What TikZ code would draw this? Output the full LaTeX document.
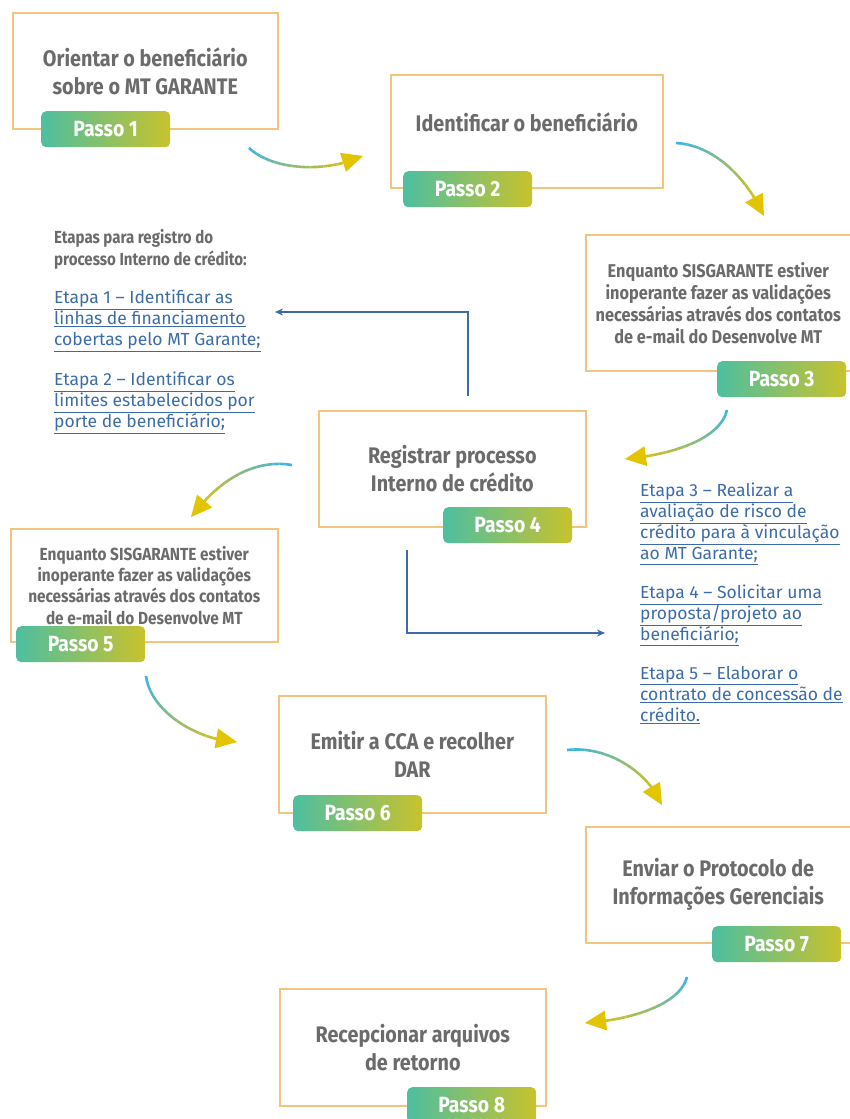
\documentclass[tikz,border=0pt]{standalone}
\usepackage{fontspec}
\setmainfont{Fira Sans}
\newfontfamily\dinfont[FakeStretch=0.88]{Fira Sans}
\newfontfamily\headfont[FakeStretch=0.86]{Fira Sans}
\usepackage{tikz}
\usetikzlibrary{calc, positioning, arrows.meta}
\definecolor{boxline}{HTML}{F2C47E}
\definecolor{textgray}{HTML}{6B6B6B}
\definecolor{passoA}{HTML}{4DBFA0}
\definecolor{passoB}{HTML}{C8C22C}
\definecolor{arrowA}{HTML}{3AB4E6}
\definecolor{arrowB}{HTML}{CFC21E}
\definecolor{tipyellow}{HTML}{E3C400}
\definecolor{etapablue}{HTML}{3C6CA8}
\tikzstyle{stepbox} = [rectangle, anchor=north west, draw=boxline, line width=1.6pt, fill=white, text=textgray, align=center, font=\dinfont\bfseries\fontsize{22.5}{28}\selectfont]
\tikzstyle{smallstep} = [stepbox, font=\dinfont\bfseries\fontsize{18.5}{22}\selectfont]
\tikzstyle{passo} = [rectangle, rounded corners=5pt, anchor=north west, minimum width=129pt, minimum height=36pt, left color=passoA, right color=passoB, text=white, font=\dinfont\bfseries\fontsize{22}{24}\selectfont]
\tikzstyle{heading} = [anchor=north west, align=left, inner sep=0pt, text=textgray, font=\headfont\bfseries\fontsize{17.5}{22}\selectfont]
\tikzstyle{etapa} = [anchor=north west, align=left, inner sep=0pt, text=etapablue, font=\fontsize{17.5}{21}\selectfont]
\tikzstyle{blueline} = [etapablue, line width=1.3pt, -{Stealth[length=8pt, width=7pt]}]
\tikzstyle{flowline} = [line width=2.6pt]
\tikzstyle{arrowtip} = [fill=tipyellow]

% curved step arrow: start, control 1, control 2, end
\newcommand{\flowarrow}[4]{%
  \foreach \k [evaluate=\k as \t using \k/20] in {0,...,20}{
    \path (#1) .. controls (#2) and (#3) .. (#4) coordinate[pos=\t] (q\k);
  }
  \foreach \k [evaluate=\k as \j using int(\k+1), evaluate=\k as \m using int(\k*100/16)] in {0,...,16}{
    \draw[flowline, color=arrowB!\m!arrowA] (q\k) -- (q\j);
  }
  \fill[arrowtip] (#4) -- ($(#4)!21pt!(q16)!10pt!90:(#4)$) -- ($(#4)!21pt!(q16)!10pt!-90:(#4)$) -- cycle;
}

\begin{document}
\begin{tikzpicture}[x=1pt, y=-1pt]
    \useasboundingbox (0,0) rectangle (850,1119);

    % step boxes
    \node (Box1) [stepbox, minimum width=265pt, minimum height=116pt] at (12,12) {Orientar o beneficiário\\sobre o MT GARANTE};
    \node (Box2) [stepbox, minimum width=272pt, minimum height=113pt] at (390,74) {\raisebox{0pt}[0pt][0pt]{Identificar o beneficiário}};
    \node (Box3) [smallstep, minimum width=265pt, minimum height=136pt] at (585,234) {Enquanto SISGARANTE estiver\\inoperante fazer as validações\\necessárias através dos contatos\\de e-mail do Desenvolve MT};
    \node (Box4) [stepbox, minimum width=267pt, minimum height=116pt] at (318,410) {Registrar processo\\Interno de crédito};
    \node (Box5) [smallstep, font=\dinfont\bfseries\fontsize{17.5}{21.3}\selectfont, minimum width=267pt, minimum height=113pt] at (10,528) {Enquanto SISGARANTE estiver\\inoperante fazer as validações\\necessárias através dos contatos\\de e-mail do Desenvolve MT};
    \node (Box6) [stepbox, minimum width=267pt, minimum height=117pt] at (278,695) {Emitir a CCA e recolher\\DAR};
    \node (Box7) [stepbox, minimum width=265pt, minimum height=116pt] at (585,826) {Enviar o Protocolo de\\Informações Gerenciais};
    \node (Box8) [stepbox, minimum width=266pt, minimum height=117pt] at (279,988) {Recepcionar arquivos\\de retorno};

    % passo tags
    \node (Tag1) [passo] at (41,111) {Passo 1};
    \node (Tag2) [passo] at (403,171) {Passo 2};
    \node (Tag3) [passo] at (717,361) {Passo 3};
    \node (Tag4) [passo] at (443,507) {Passo 4};
    \node (Tag5) [passo] at (16,626) {Passo 5};
    \node (Tag6) [passo] at (293,795) {Passo 6};
    \node (Tag7) [passo] at (712,926) {Passo 7};
    \node (Tag8) [passo] at (407,1087) {Passo 8};

    % etapas
    \node (Heading) [heading] at (54,229) {Etapas para registro do\\processo Interno de crédito:};
    \node (Etapa1) [etapa] at (54,290) {\underline{Etapa 1 – Identificar as}\\\underline{linhas de financiamento}\\\underline{cobertas pelo MT Garante;}};
    \node (Etapa2) [etapa] at (54,372) {\underline{Etapa 2 – Identificar os}\\\underline{limites estabelecidos por}\\\underline{porte de beneficiário;}};
    \node (Etapa3) [etapa] at (640,483) {\underline{Etapa 3 – Realizar a}\\\underline{avaliação de risco de}\\\underline{crédito para à vinculação}\\\underline{ao MT Garante;}};
    \node (Etapa4) [etapa] at (640,585) {\underline{Etapa 4 – Solicitar uma}\\\underline{proposta/projeto ao}\\\underline{beneficiário;}};
    \node (Etapa5) [etapa] at (640,666) {\underline{Etapa 5 – Elaborar o}\\\underline{contrato de concessão de}\\\underline{crédito.}};

    % blue connectors
    \coordinate (Up4) at (468,396);
    \coordinate (End1) at (275,312);
    \coordinate (Down4) at (407,550);
    \coordinate (End3) at (605,633);
    \draw [blueline] (Up4) |- (End1);
    \draw [blueline] (Down4) |- (End3);

    % curved step arrows
    \flowarrow{249,148}{270,168}{320,175}{363,156}
    \flowarrow{676,143}{715,145}{748,180}{764,216}
    \flowarrow{727,410}{720,440}{670,455}{625,459}
    \flowarrow{292,465}{250,458}{215,485}{191,517}
    \flowarrow{146,676}{150,710}{195,740}{237,742}
    \flowarrow{567,750}{610,745}{650,775}{662,805}
    \flowarrow{687,977}{680,1005}{630,1020}{585,1023}
\end{tikzpicture}
\end{document}
